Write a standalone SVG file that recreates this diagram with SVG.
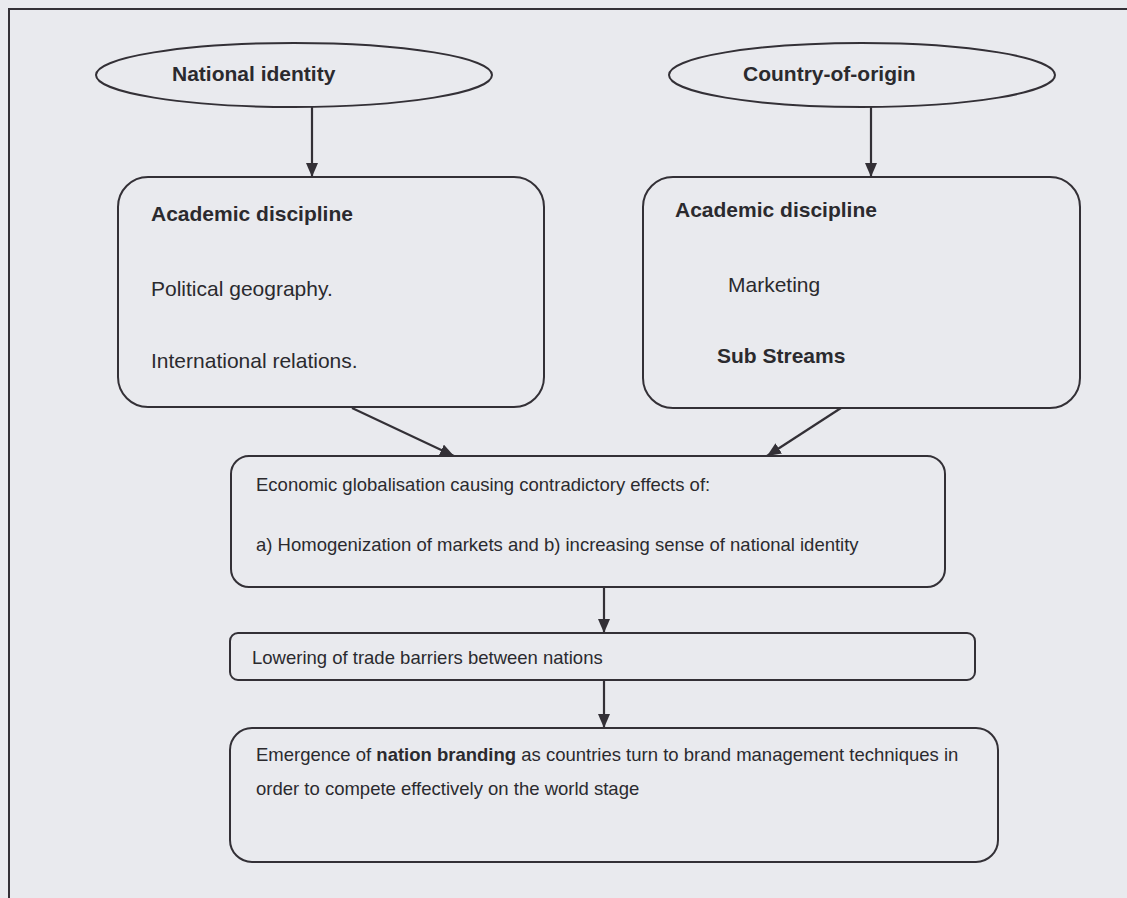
<svg xmlns="http://www.w3.org/2000/svg" width="1127" height="898" viewBox="0 0 1127 898">
  <style>
    .shape { fill: none; stroke: #333036; stroke-width: 2; }
    .conn { fill: none; stroke: #333036; stroke-width: 2.2; }
    .big { font-family: "Liberation Sans", Arial, sans-serif; font-size: 21px; fill: #2b2a2e; }
    .small { font-family: "Liberation Sans", Arial, sans-serif; font-size: 18.5px; fill: #2b2a2e; }
    .b { font-weight: bold; }
  </style>
  <defs>
    <marker id="arrow" viewBox="0 0 14 12" refX="14" refY="6" markerWidth="14" markerHeight="12" markerUnits="userSpaceOnUse" orient="auto">
      <path d="M0,0 L14,6 L0,12 z" fill="#333036"/>
    </marker>
  </defs>

  <!-- page background and frame -->
  <rect x="0" y="0" width="1127" height="898" fill="#e9eaee"/>
  <path d="M9,898 V9 H1127" class="shape" stroke-width="2.5"/>

  <!-- connectors -->
  <g id="connectors">
    <line x1="312" y1="107" x2="312" y2="177" class="conn" marker-end="url(#arrow)"/>
    <line x1="871" y1="107" x2="871" y2="177" class="conn" marker-end="url(#arrow)"/>
    <line x1="352" y1="408" x2="454" y2="456" class="conn" marker-end="url(#arrow)"/>
    <line x1="841" y1="408" x2="767" y2="456" class="conn" marker-end="url(#arrow)"/>
    <line x1="604" y1="587" x2="604" y2="633" class="conn" marker-end="url(#arrow)"/>
    <line x1="604" y1="680" x2="604" y2="728" class="conn" marker-end="url(#arrow)"/>
  </g>

  <g id="national-identity">
    <ellipse cx="294" cy="75" rx="198" ry="32" class="shape"/>
    <text x="172" y="81" class="big b">National identity</text>
  </g>

  <g id="country-of-origin">
    <ellipse cx="862" cy="75" rx="193" ry="32" class="shape"/>
    <text x="743" y="81" class="big b">Country-of-origin</text>
  </g>

  <g id="discipline-left">
    <rect x="118" y="177" width="426" height="230" rx="30" class="shape"/>
    <text x="151" y="221" class="big b">Academic discipline</text>
    <text x="151" y="296" class="big">Political geography.</text>
    <text x="151" y="368" class="big">International relations.</text>
  </g>

  <g id="discipline-right">
    <rect x="643" y="177" width="437" height="231" rx="30" class="shape"/>
    <text x="675" y="217" class="big b">Academic discipline</text>
    <text x="728" y="292" class="big">Marketing</text>
    <text x="717" y="363" class="big b">Sub Streams</text>
  </g>

  <g id="globalisation">
    <rect x="231" y="456" width="714" height="131" rx="18" class="shape"/>
    <text x="256" y="491" class="small">Economic globalisation causing contradictory effects of:</text>
    <text x="256" y="551" class="small">a) Homogenization of markets and b) increasing sense of national identity</text>
  </g>

  <g id="trade-barriers">
    <rect x="230" y="633" width="745" height="47" rx="8" class="shape"/>
    <text x="252" y="664" class="small">Lowering of trade barriers between nations</text>
  </g>

  <g id="nation-branding">
    <rect x="230" y="728" width="768" height="134" rx="22" class="shape"/>
    <text x="256" y="761" class="small">Emergence of <tspan class="b">nation branding</tspan> as countries turn to brand management techniques in</text>
    <text x="256" y="795" class="small">order to compete effectively on the world stage</text>
  </g>
</svg>
